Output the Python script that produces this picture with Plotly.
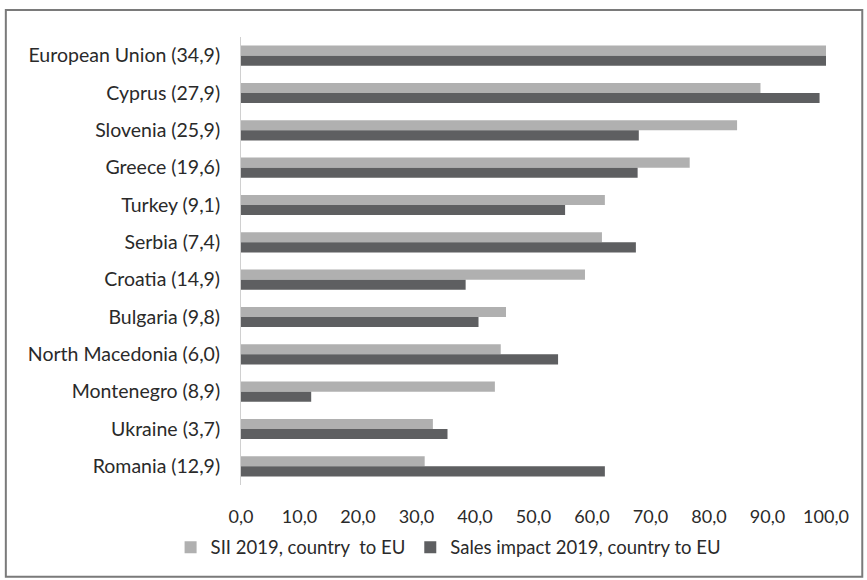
import plotly.graph_objects as go

# Country labels (regional innovation score in brackets)
countries = [
    "European Union (34,9)", "Cyprus (27,9)", "Slovenia (25,9)", "Greece (19,6)",
    "Turkey (9,1)", "Serbia (7,4)", "Croatia (14,9)", "Bulgaria (9,8)",
    "North Macedonia (6,0)", "Montenegro (8,9)", "Ukraine (3,7)", "Romania (12,9)",
]
sii_2019 = [100.0, 88.8, 84.8, 76.7, 62.2, 61.7, 58.8, 45.3, 44.4, 43.4, 32.8, 31.4]
sales_impact_2019 = [100.0, 98.9, 68.0, 67.8, 55.4, 67.5, 38.4, 40.6, 54.2, 12.0, 35.3, 62.2]
x_ticks = [0, 10, 20, 30, 40, 50, 60, 70, 80, 90, 100]

FONT = "Lato"
TEXT = "#2a2a2a"

fig = go.Figure()
fig.add_trace(go.Bar(
    y=countries, x=sii_2019, orientation="h",
    name="SII 2019, country  to EU",
    marker=dict(color="#b0b0b0", line=dict(width=0)),
))
fig.add_trace(go.Bar(
    y=countries, x=sales_impact_2019, orientation="h",
    name="Sales impact 2019, country to EU",
    marker=dict(color="#5e5f61", line=dict(width=0)),
))

fig.update_layout(
    width=867, height=580,
    margin=dict(l=241, r=41, t=37, b=95),
    paper_bgcolor="white", plot_bgcolor="white",
    barmode="group", bargap=0.46, bargroupgap=0,
    separators=",.",
    font=dict(family=FONT, size=18, color=TEXT),
    showlegend=True,
    legend=dict(
        orientation="h", x=0.354, xanchor="center", y=-0.14, yanchor="middle",
        font=dict(family=FONT, size=18.5, color=TEXT),
        itemsizing="constant", traceorder="normal",
    ),
    xaxis=dict(
        range=[0, 100], tickvals=x_ticks, tickformat=".1f",
        showgrid=False, zeroline=False, showline=False,
        ticks="", ticklabelstandoff=19,
        tickfont=dict(family=FONT, size=18, color=TEXT),
    ),
    yaxis=dict(
        autorange="reversed", showgrid=False, zeroline=False,
        showline=True, linecolor="#d0d0d0", linewidth=1,
        ticks="", ticklabelstandoff=16,
        tickfont=dict(family=FONT, size=19.5, color=TEXT),
    ),
    shapes=[dict(
        type="rect", xref="paper", yref="paper",
        x0=-0.402, x1=1.062, y0=-0.205, y1=1.060,
        line=dict(color="#7a7a7a", width=2), fillcolor="rgba(0,0,0,0)",
        layer="below",
    )],
)

fig.write_html("out.html")
